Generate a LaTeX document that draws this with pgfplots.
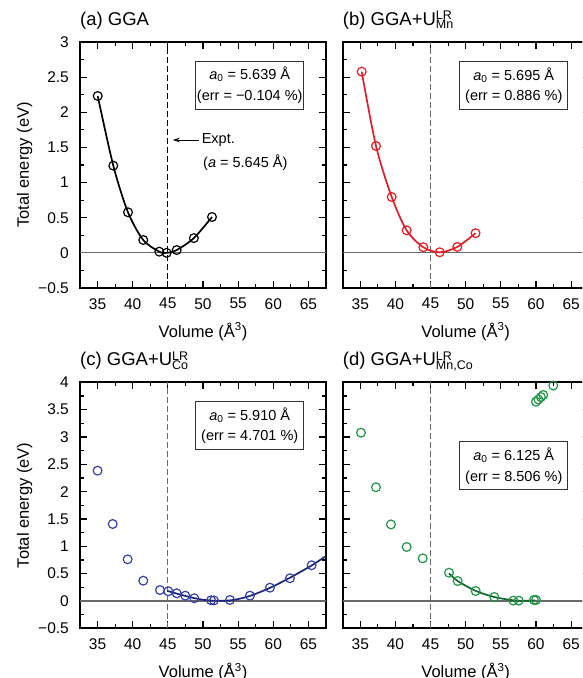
\documentclass[border=0pt]{standalone}
\usepackage{pgfplots}
\pgfplotsset{compat=1.18}
\usepackage{fontspec}
\setmainfont{Liberation Sans}
\usetikzlibrary{arrows.meta}

\definecolor{fitred}{RGB}{232,28,36}
\definecolor{ptblue}{RGB}{52,64,168}
\definecolor{fitblue}{RGB}{28,36,120}
\definecolor{ptgreen}{RGB}{30,150,70}
\definecolor{fitgreen}{RGB}{20,100,45}
\definecolor{refgray}{RGB}{105,105,105}

\newcommand\ticksize{\fontsize{15.5}{16}\selectfont}
\newcommand\labelsize{\fontsize{16.5}{18}\selectfont}
\newcommand\titlesize{\fontsize{18.5}{20}\selectfont}
\newcommand\boxsize{\fontsize{14.5}{20.5}\selectfont}
\newcommand\scriptsz{\fontsize{12.5}{12.5}\selectfont}
% U with stacked superscript and subscript
\newcommand\UU[2]{U\rlap{\raisebox{5.7pt}{\scriptsz #1}}\raisebox{-3.3pt}{\scriptsz #2}}

\tikzset{
  infobox/.style={draw=black!80, line width=1pt, fill=white, minimum width=108pt,
    minimum height=48pt, align=center, font=\boxsize, inner sep=0pt},
}

\pgfplotsset{
  panel/.style={
    scale only axis, width=246pt, height=246pt,
    anchor=south west,
    xmin=32.5, xmax=67.5,
    xtick={35,40,...,65}, minor x tick num=1, minor y tick num=1,
    tick align=inside, major tick length=7pt, minor tick length=4pt,
    axis line style={line width=1.6pt},
    tick style={line width=1.1pt, black},
    /pgf/number format/assume math mode=true,
    tick label style={font=\ticksize},
    xticklabel style={anchor=north, inner sep=0pt, yshift=-10pt},
    yticklabel style={anchor=east, inner sep=0pt, xshift=-11pt},
    xlabel={Volume (Å\textsuperscript{3})},
    xlabel style={at={(axis description cs:0.5,-0.2)}, anchor=base, font=\labelsize},
    ylabel style={at={(axis description cs:-0.208,0.5)}, anchor=base, font=\labelsize},
    title style={at={(axis description cs:0,1)}, anchor=base west, yshift=10.5pt, inner sep=0pt, font=\titlesize},
    clip mode=individual,
  },
  toprow/.style={ymin=-0.5, ymax=3, ytick={-0.5,0,0.5,1,1.5,2,2.5,3}},
  botrow/.style={ymin=-0.5, ymax=4, ytick={-0.5,0,0.5,1,1.5,2,2.5,3,3.5,4}},
  pts/.style={only marks, mark=o, mark size=4.4pt, mark options={line width=1.2pt}},
  fitline/.style={smooth, no marks, line width=1.7pt},
  zeroline/.style={refgray, line width=1.1pt},
  expt/.style={dash pattern=on 6pt off 3pt, line width=1pt},
}

\begin{document}
\begin{tikzpicture}
\useasboundingbox (0,0) rectangle (582pt,678pt);
\clip (0,0) rectangle (582pt,678pt);

% (a) GGA
\begin{axis}[panel, toprow, at={(80pt,390pt)},
  yticklabels={−0.5,0,0.5,1,1.5,2,2.5,3},
  ylabel={Total energy (eV)},
  title={(a) GGA}]
\addplot[zeroline] coordinates {(32.5,0) (67.5,0)};
\addplot[expt, black] coordinates {(45,-0.5) (45,3)};
\addplot[fitline, black] coordinates {
  (35.02,2.232) (37.24,1.240) (39.33,0.577) (41.50,0.183) (43.78,0.017)
  (44.83,0.000) (46.26,0.040) (48.70,0.210) (51.28,0.510)};
\addplot[pts, black] coordinates {
  (35.02,2.232) (37.24,1.240) (39.33,0.577) (41.50,0.183) (43.78,0.017)
  (44.83,0.000) (46.26,0.040) (48.70,0.210) (51.28,0.510)};
\node[infobox] at (axis description cs:0.69,0.825)
  {\textit{a}\textsubscript{0} = 5.639 Å\\(err = −0.104 \%)};
\draw[line width=0.9pt, -{Stealth[length=7pt, width=4.5pt]}]
  (axis cs:49.4,1.606) -- (axis cs:45.7,1.606);
\node[anchor=west, inner sep=0pt, font=\boxsize] at (axis cs:49.8,1.606) {Expt.};
\node[anchor=west, inner sep=0pt, font=\boxsize] at (axis cs:50.0,1.279)
  {(\textit{a} = 5.645 Å)};
\end{axis}

% (b) GGA+U on Mn
\begin{axis}[panel, toprow, at={(342.7pt,390pt)},
  yticklabels={},
  title={(b) GGA+\UU{LR}{Mn}}]
\addplot[zeroline] coordinates {(32.5,0) (67.5,0)};
\addplot[expt, refgray] coordinates {(45,-0.5) (45,3)};
\addplot[fitline, fitred] coordinates {
  (35.20,2.578) (37.24,1.520) (39.47,0.795) (41.60,0.320) (43.97,0.080)
  (46.30,0.008) (48.80,0.084) (51.40,0.280)};
\addplot[pts, fitred] coordinates {
  (35.20,2.578) (37.24,1.520) (39.47,0.795) (41.60,0.320) (43.97,0.080)
  (46.30,0.008) (48.80,0.084) (51.40,0.280)};
\node[infobox] at (axis description cs:0.6955,0.823)
  {\textit{a}\textsubscript{0} = 5.695 Å\\(err = 0.886 \%)};
\end{axis}

% (c) GGA+U on Co
\begin{axis}[panel, botrow, at={(80pt,49.7pt)},
  yticklabels={−0.5,0,0.5,1,1.5,2,2.5,3,3.5,4},
  ylabel={Total energy (eV)},
  title={(c) GGA+\UU{LR}{Co}}]
\addplot[zeroline] coordinates {(32.5,0) (67.5,0)};
\addplot[expt, refgray] coordinates {(45,-0.5) (45,4)};
\addplot[fitline, fitblue] coordinates {
  (44.90,0.185) (46.26,0.135) (47.48,0.092) (48.76,0.052) (50.00,0.022)
  (51.40,0.006) (53.00,0.004) (54.50,0.022) (56.68,0.092) (59.53,0.240)
  (62.37,0.425) (65.46,0.650) (67.50,0.822)};
\addplot[pts, ptblue] coordinates {
  (35.00,2.383) (37.15,1.408) (39.28,0.762) (41.50,0.371) (43.88,0.200)
  (45.06,0.177) (46.26,0.140) (47.48,0.097) (48.76,0.050) (51.15,0.013)
  (51.55,0.010) (53.84,0.018) (56.68,0.097) (59.53,0.243) (62.37,0.415)
  (65.46,0.653)};
\node[infobox] at (axis description cs:0.69,0.823)
  {\textit{a}\textsubscript{0} = 5.910 Å\\(err = 4.701 \%)};
\end{axis}

% (d) GGA+U on Mn and Co
\begin{axis}[panel, botrow, at={(342.7pt,49.7pt)},
  yticklabels={},
  title={(d) GGA+\UU{LR}{Mn,Co}}]
\addplot[zeroline] coordinates {(32.5,0) (67.5,0)};
\addplot[expt, refgray] coordinates {(45,-0.5) (45,4)};
\addplot[fitline, fitgreen] coordinates {
  (47.62,0.505) (48.86,0.365) (51.42,0.185) (54.07,0.072) (56.77,0.012)
  (58.30,0.002) (59.80,0.012)};
\addplot[pts, ptgreen] coordinates {
  (35.10,3.078) (37.24,2.080) (39.37,1.400) (41.60,0.987) (43.88,0.780)
  (47.62,0.517) (48.86,0.365) (51.42,0.183) (54.07,0.073) (56.77,0.006)
  (57.54,0.006) (59.70,0.018) (60.00,0.018) (60.00,3.645) (60.35,3.685)
  (60.70,3.730) (61.03,3.768) (62.46,3.940)};
\node[infobox] at (axis description cs:0.6955,0.660)
  {\textit{a}\textsubscript{0} = 6.125 Å\\(err = 8.506 \%)};
\end{axis}
\end{tikzpicture}
\end{document}
